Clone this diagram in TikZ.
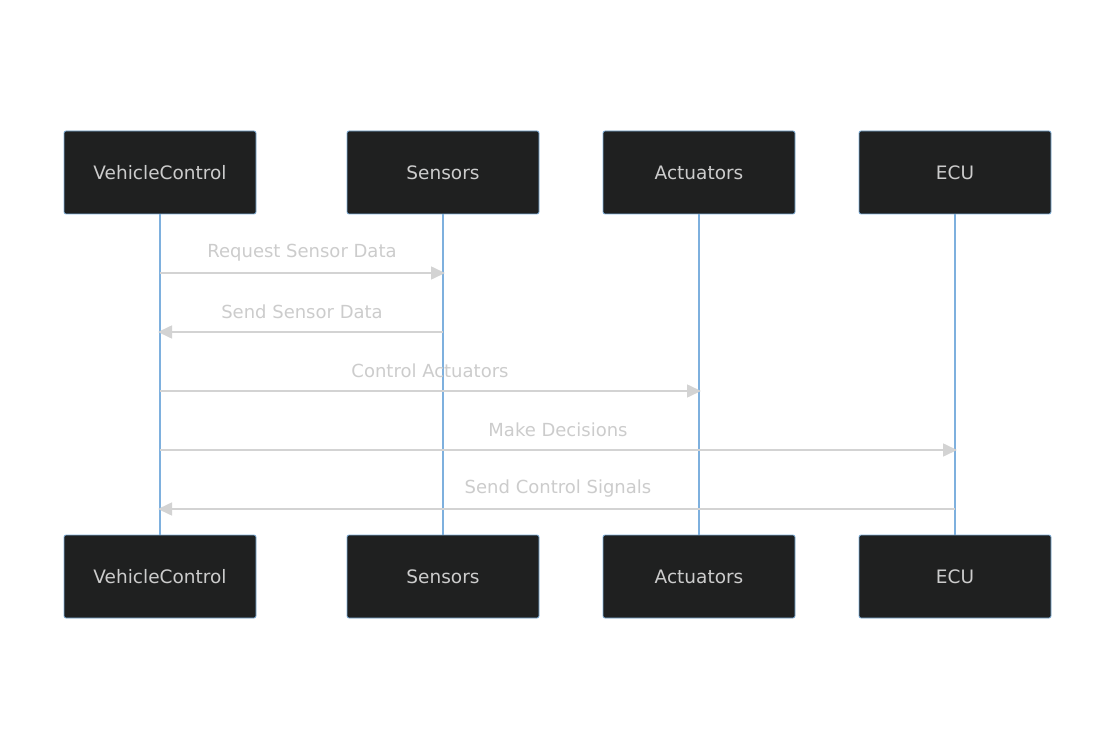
\documentclass[tikz,border=0pt]{standalone}
\usepackage{fontspec}
\setmainfont{DejaVu Sans}
\usetikzlibrary{arrows.meta}
\definecolor{boxfill}{HTML}{1F2020}
\definecolor{boxline}{HTML}{81B1DB}
\definecolor{lifeline}{HTML}{7EB0DE}
\definecolor{msgline}{HTML}{D3D3D3}
\definecolor{txt}{HTML}{CCCCCC}
\tikzset{
  actor/.style={draw=boxline, line width=0.8pt, fill=boxfill, rounded corners=2pt,
    minimum width=192pt, minimum height=83pt, inner sep=0pt, text=txt, font=\fontsize{18.5pt}{22pt}\selectfont},
  life/.style={draw=lifeline, line width=2.2pt},
  msg/.style={draw=msgline, line width=1.6pt, -{Triangle[length=14pt,width=13pt]}},
  msglabel/.style={text=txt, font=\fontsize{18pt}{21pt}\selectfont, inner sep=0pt}
}
\begin{document}
\begin{tikzpicture}[x=1pt,y=-1pt]
\useasboundingbox (0,0) rectangle (1116,751);
\fill[white] (0,0) rectangle (1116,751);
% lifelines
\foreach \n/\x in {v/160,s/443,a/699,e/955}{
  \coordinate (\n t) at (\x,214);
  \coordinate (\n b) at (\x,535);
  \draw[life] (\n t) -- (\n b);
}
% actors
\node[actor] (vT) at (160,172.5) {VehicleControl};
\node[actor] (sT) at (443,172.5) {Sensors};
\node[actor] (aT) at (699,172.5) {Actuators};
\node[actor] (eT) at (955,172.5) {ECU};
\node[actor] (vB) at (160,576.5) {VehicleControl};
\node[actor] (sB) at (443,576.5) {Sensors};
\node[actor] (aB) at (699,576.5) {Actuators};
\node[actor] (eB) at (955,576.5) {ECU};
% message anchors
\foreach \n/\x in {v/160,s/443,a/699,e/955}{
  \foreach \i/\y in {1/273,2/332,3/391,4/450,5/509}{
    \coordinate (\n\i) at (\x,\y);
  }
}
\coordinate (s1e) at (445,273);
\coordinate (a3e) at (701,391);
\coordinate (e4e) at (957,450);
\coordinate (v2e) at (158,332);
\coordinate (v5e) at (158,509);
\draw[msg] (v1) -- (s1e);
\node[msglabel] (l1) at (302,253) {Request Sensor Data};
\draw[msg] (s2) -- (v2e);
\node[msglabel] (l2) at (302,312) {Send Sensor Data};
\draw[msg] (v3) -- (a3e);
\node[msglabel] (l3) at (430,371) {Control Actuators};
\draw[msg] (v4) -- (e4e);
\node[msglabel] (l4) at (558,430) {Make Decisions};
\draw[msg] (e5) -- (v5e);
\node[msglabel] (l5) at (558,489) {Send Control Signals};
\end{tikzpicture}
\end{document}
